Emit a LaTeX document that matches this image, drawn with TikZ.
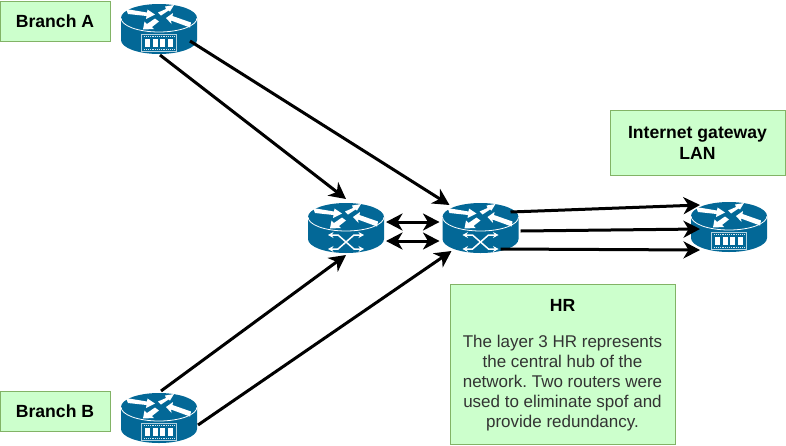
\documentclass[tikz,border=0pt]{standalone}
\usepackage{fontspec}
\setmainfont{Liberation Sans}
\usetikzlibrary{arrows.meta}
\definecolor{routerblue}{HTML}{036897}
\definecolor{notegreen}{HTML}{CCFFCC}
\definecolor{noteedge}{HTML}{82B366}
\definecolor{bodytext}{HTML}{333333}
\tikzset{
  x=1pt,y=-1pt,
  notebox/.style={draw=noteedge,fill=notegreen,line width=0.9pt,align=center,inner sep=0pt,font=\fontsize{17.6}{21}\selectfont\bfseries},
  routerbox/.style={minimum width=76pt,minimum height=50pt,inner sep=0pt,draw=none},
  link/.style={line width=3pt,-{Stealth[length=16.5pt,width=17pt,inset=5pt]}},
  biglink/.style={line width=3pt,{Stealth[length=16.5pt,width=17pt,inset=5pt]}-{Stealth[length=16.5pt,width=17pt,inset=5pt]}},
  wa/.style={fill=white,draw=none},
  wl/.style={draw=white,line width=1.5pt,{Stealth[length=5.5pt,width=6pt]}-{Stealth[length=5.5pt,width=6pt]}}
}
\newcommand{\rtop}{%
  \fill[routerblue] (-38,-11) -- (-38,11) arc[start angle=180,end angle=0,x radius=38,y radius=14] -- (38,-11) arc[start angle=0,end angle=-180,x radius=38,y radius=14] -- cycle;
  \draw[white,line width=0.8pt] (-38,-11) arc[start angle=180,end angle=0,x radius=38,y radius=14];
  \fill[wa] (-33,-20) -- (-12,-16.5) -- (-11.5,-19.5) -- (-4,-14.5) -- (-13,-10) -- (-12.5,-13) -- (-31,-15) -- cycle;
  \fill[wa] (-1,-16.5) -- (7,-20) -- (6,-22.5) -- (15,-24) -- (11,-17.5) -- (9.5,-18.5) -- (2,-13.5) -- cycle;
  \fill[wa] (7,-11) -- (14,-16) -- (13.5,-13) -- (32,-6.5) -- (31,-1.5) -- (12,-8.5) -- (12.5,-5) -- cycle;
  \fill[wa] (-16,0.5) -- (-14.5,-7.5) -- (-12,-5) -- (-4,-10.5) -- (0,-7.5) -- (-7,-2) -- (-5,0) -- cycle;
}
\newcommand{\rpanel}{%
  \fill[white!70!routerblue] (-18,5) rectangle (18,23);
  \fill[routerblue] (-17,6) rectangle (17,22);
  \draw[white!85!routerblue,line width=1.2pt,dash pattern=on 1.2pt off 1pt] (-15.5,7.5) -- (15.5,7.5) (-15.5,20.5) -- (15.5,20.5);
  \foreach \q in {-14,-6.5,1,8.5}{\fill[white] (\q,10) rectangle ++(5,8);}
}
\newcommand{\rcross}{%
  \draw[wl] (-18,7) -- (-8,7) -- (8,21) -- (18,21);
  \draw[wl] (-18,21) -- (-8,21) -- (8,7) -- (18,7);
}
\newcommand{\router}[4]{%
  \node[routerbox] (#1) at (#2,#3) {};
  \begin{scope}[shift={(#1.center)}]\rtop #4\end{scope}
}
\begin{document}
\begin{tikzpicture}
\frenchspacing
\useasboundingbox (0,0) rectangle (786,445);
\fill[white] (0,0) rectangle (786,445);
\node[notebox,minimum width=110pt,minimum height=40pt] (ba) at (55,21.5) {Branch A};
\node[notebox,minimum width=110pt,minimum height=40pt] (bb) at (55,411.5) {Branch B};
\node[notebox,minimum width=175pt,minimum height=65pt] (gw) at (697.5,142.5) {Internet gateway\\LAN};
\node[notebox,minimum width=225pt,minimum height=160pt] (hr) at (562.5,364) {};
\node[font=\fontsize{17.6}{21}\selectfont\bfseries] (hrt) at (562.5,305) {HR};
\node[align=center,inner sep=0pt,text=bodytext,font=\fontsize{17}{20}\selectfont] (hrb) at (562.5,383) {The layer 3 HR represents\\the central hub of the\\network. Two routers were\\used to eliminate spof and\\provide redundancy.};
\router{ra}{159}{29}{\rpanel}
\router{rb}{159}{418}{\rpanel}
\router{rm}{346}{228}{\rcross}
\router{rh}{480.5}{228}{\rcross}
\router{rg}{729}{227}{\rpanel}
\draw[link] ([shift={(1,26)}]ra.center) -- ([shift={(0,-29)}]rm.center);
\draw[link] ([shift={(31,12)}]ra.center) -- ([shift={(-31,-23)}]rh.center);
\draw[link] ([shift={(2,-27)}]rb.center) -- ([shift={(0,27)}]rm.center);
\draw[link] ([shift={(39,7)}]rb.center) -- ([shift={(-29,23)}]rh.center);
\draw[biglink] ([shift={(40,-6)}]rm.center) -- ([shift={(-41,-6)}]rh.center);
\draw[biglink] ([shift={(40,13)}]rm.center) -- ([shift={(-41,13)}]rh.center);
\draw[link] ([shift={(30,-16)}]rh.center) -- ([shift={(-29,-22)}]rg.center);
\draw[link] ([shift={(40,3)}]rh.center) -- ([shift={(-29,2)}]rg.center);
\draw[link] ([shift={(20,21)}]rh.center) -- ([shift={(-29,23)}]rg.center);
\end{tikzpicture}
\end{document}
